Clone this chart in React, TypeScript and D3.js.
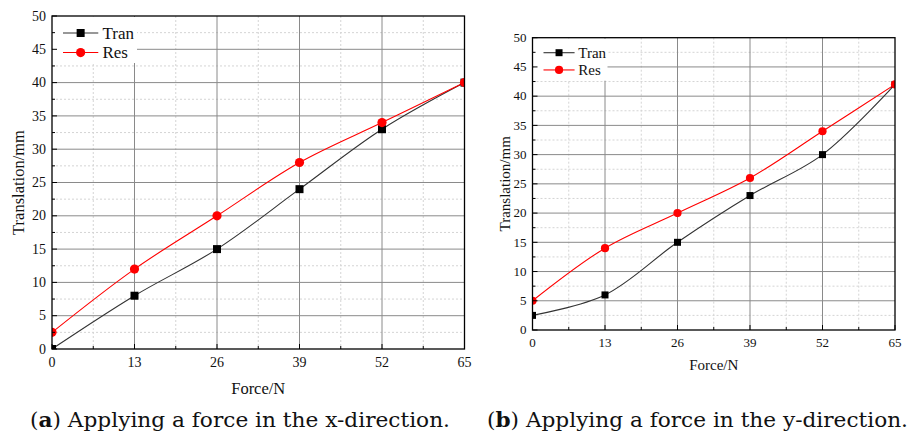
import React from "react";
import * as d3 from "d3";

const forces = [0, 13, 26, 39, 52, 65];
const xTicks = [0, 13, 26, 39, 52, 65];
const yTicks = [0, 5, 10, 15, 20, 25, 30, 35, 40, 45, 50];
const tranA = [0, 8, 15, 24, 33, 40];
const resA = [2.5, 12, 20, 28, 34, 40];
const tranB = [2.5, 6, 15, 23, 30, 42];
const resB = [5, 14, 20, 26, 34, 42];
const seriesNames = ["Tran", "Res"];
const captionA = ["a", ") Applying a force in the x-direction."];
const captionB = ["b", ") Applying a force in the y-direction."];

type PanelProps = {
  id: string;
  left: number;
  right: number;
  top: number;
  bottom: number;
  tran: number[];
  res: number[];
  tickFont: number;
  titleFont: number;
  legendFont: number;
  legendW: number;
  legendH: number;
  legendGap: number;
  marker: number;
  yTitleX: number;
  xTitleY: number;
  caption: string[];
  capX: number;
  capW: number;
};

const SERIF = "'Liberation Serif', 'Times New Roman', serif";

function Panel(p: PanelProps) {
  const x = d3.scaleLinear().domain([0, 65]).range([p.left, p.right]);
  const y = d3.scaleLinear().domain([0, 50]).range([p.bottom, p.top]);
  const line = d3
    .line<number>()
    .x((_, i) => x(forces[i]))
    .y((d) => y(d))
    .curve(d3.curveCatmullRom.alpha(0.5));
  const minorX = d3.range(6.5, 65, 13);
  const minorY = d3.range(2.5, 50, 5);
  const clipId = "clip-" + p.id;
  const m = p.marker;
  const legX = p.left + 11;
  const legY1 = p.top + p.legendGap;
  const legY2 = legY1 + p.legendGap * 1.15;
  return (
    <g>
      <defs>
        <clipPath id={clipId}>
          <rect x={p.left} y={p.top} width={p.right - p.left} height={p.bottom - p.top} />
        </clipPath>
      </defs>
      {/* minor grid */}
      {minorX.map((v) => (
        <line key={"mx" + v} x1={x(v)} x2={x(v)} y1={p.top} y2={p.bottom} stroke="#d4d4d4" strokeWidth={1} strokeDasharray="2,2" />
      ))}
      {minorY.map((v) => (
        <line key={"my" + v} x1={p.left} x2={p.right} y1={y(v)} y2={y(v)} stroke="#d4d4d4" strokeWidth={1} strokeDasharray="2,2" />
      ))}
      {/* major grid */}
      {xTicks.slice(1, -1).map((v) => (
        <line key={"gx" + v} x1={x(v)} x2={x(v)} y1={p.top} y2={p.bottom} stroke="#8a8a8a" strokeWidth={1} />
      ))}
      {yTicks.slice(1, -1).map((v) => (
        <line key={"gy" + v} x1={p.left} x2={p.right} y1={y(v)} y2={y(v)} stroke="#8a8a8a" strokeWidth={1} />
      ))}
      {/* legend background */}
      <rect x={p.left + 1} y={p.top + 1} width={p.legendW} height={p.legendH} fill="#fff" />
      {/* series */}
      <g clipPath={`url(#${clipId})`}>
        <path d={line(p.tran) || ""} fill="none" stroke="#333" strokeWidth={1.1} />
        <path d={line(p.res) || ""} fill="none" stroke="#ff0000" strokeWidth={1.1} />
        {p.tran.map((v, i) => (
          <rect key={"t" + i} x={x(forces[i]) - m / 2} y={y(v) - m / 2} width={m} height={m} fill="#000" />
        ))}
        {p.res.map((v, i) => (
          <circle key={"r" + i} cx={x(forces[i])} cy={y(v)} r={m / 2 + 0.6} fill="#ff0000" />
        ))}
      </g>
      {/* frame */}
      <rect x={p.left} y={p.top} width={p.right - p.left} height={p.bottom - p.top} fill="none" stroke="#000" strokeWidth={1.3} />
      {/* ticks */}
      {xTicks.map((v) => (
        <line key={"tx" + v} x1={x(v)} x2={x(v)} y1={p.bottom} y2={p.bottom - 5} stroke="#000" strokeWidth={1} />
      ))}
      {minorX.map((v) => (
        <line key={"tmx" + v} x1={x(v)} x2={x(v)} y1={p.bottom} y2={p.bottom - 3} stroke="#000" strokeWidth={1} />
      ))}
      {yTicks.map((v) => (
        <line key={"ty" + v} x1={p.left} x2={p.left + 5} y1={y(v)} y2={y(v)} stroke="#000" strokeWidth={1} />
      ))}
      {minorY.map((v) => (
        <line key={"tmy" + v} x1={p.left} x2={p.left + 3} y1={y(v)} y2={y(v)} stroke="#000" strokeWidth={1} />
      ))}
      {/* tick labels */}
      {xTicks.map((v) => (
        <text key={"lx" + v} x={x(v)} y={p.bottom + p.tickFont + 4} textAnchor="middle" fontFamily={SERIF} fontSize={p.tickFont} fill="#111">
          {v}
        </text>
      ))}
      {yTicks.map((v) => (
        <text key={"ly" + v} x={p.left - 6} y={y(v) + p.tickFont * 0.33} textAnchor="end" fontFamily={SERIF} fontSize={p.tickFont} fill="#111">
          {v}
        </text>
      ))}
      {/* axis titles */}
      <text x={(p.left + p.right) / 2} y={p.xTitleY} textAnchor="middle" fontFamily={SERIF} fontSize={p.titleFont} fill="#111">
        Force/N
      </text>
      <text
        transform={`translate(${p.yTitleX},${(p.top + p.bottom) / 2}) rotate(-90)`}
        textAnchor="middle"
        fontFamily={SERIF}
        fontSize={p.titleFont}
        fill="#111"
      >
        Translation/mm
      </text>
      {/* legend */}
      <line x1={legX} x2={legX + p.legendW * 0.42} y1={legY1} y2={legY1} stroke="#333" strokeWidth={1.1} />
      <rect x={legX + p.legendW * 0.21 - m / 2} y={legY1 - m / 2} width={m} height={m} fill="#000" />
      <text x={legX + p.legendW * 0.47} y={legY1 + p.legendFont * 0.33} fontFamily={SERIF} fontSize={p.legendFont} fill="#111">
        {seriesNames[0]}
      </text>
      <line x1={legX} x2={legX + p.legendW * 0.42} y1={legY2} y2={legY2} stroke="#ff0000" strokeWidth={1.1} />
      <circle cx={legX + p.legendW * 0.21} cy={legY2} r={m / 2 + 0.6} fill="#ff0000" />
      <text x={legX + p.legendW * 0.47} y={legY2 + p.legendFont * 0.33} fontFamily={SERIF} fontSize={p.legendFont} fill="#111">
        {seriesNames[1]}
      </text>
      {/* caption */}
      <text
        x={p.capX}
        y={427}
        fontFamily="'DejaVu Serif', 'Liberation Serif', serif"
        fontSize={21}
        fill="#111"
        textLength={p.capW}
        lengthAdjust="spacingAndGlyphs"
      >
        (<tspan fontWeight="bold">{p.caption[0]}</tspan>
        {p.caption[1]}
      </text>
    </g>
  );
}

export default function App() {
  return (
    <svg width={910} height={437} style={{ position: "absolute", left: 0, top: 0, background: "#fff" }}>
      <rect x={0} y={0} width={910} height={437} fill="#fff" />
      <Panel
        id="a"
        left={52}
        right={464.5}
        top={16}
        bottom={349}
        tran={tranA}
        res={resA}
        tickFont={14}
        titleFont={16.5}
        legendFont={17}
        legendW={84}
        legendH={46}
        legendGap={17}
        marker={8}
        yTitleX={24}
        xTitleY={394}
        caption={captionA}
        capX={30}
        capW={420}
      />
      <Panel
        id="b"
        left={532.5}
        right={895}
        top={37.7}
        bottom={330}
        tran={tranB}
        res={resB}
        tickFont={13}
        titleFont={15}
        legendFont={15}
        legendW={74}
        legendH={42}
        legendGap={15}
        marker={7}
        yTitleX={510}
        xTitleY={370}
        caption={captionB}
        capX={487}
        capW={421}
      />
    </svg>
  );
}
